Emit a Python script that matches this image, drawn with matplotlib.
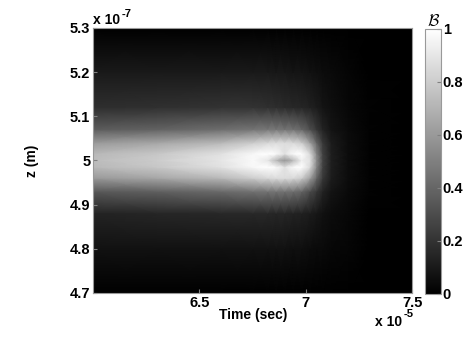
import numpy as np
import matplotlib
matplotlib.use('Agg')
import matplotlib.pyplot as plt

plt.rcParams['font.family'] = ['Liberation Sans', 'DejaVu Sans']
plt.rcParams['font.weight'] = 'bold'

# time samples (x 1e-5 s) and z samples (x 1e-7 m)
t = [6.00, 6.30, 6.60, 6.75, 6.82, 6.86, 6.90, 6.94, 6.98, 7.02, 7.05, 7.08, 7.12, 7.20, 7.30, 7.50]
z = [4.70, 4.80, 4.88, 4.93, 4.96, 4.985, 5.00, 5.015, 5.04, 5.07, 5.12, 5.20, 5.30]

# brightness B, one row per z value
B_470 = [0.00, 0.00, 0.00, 0.00, 0.00, 0.00, 0.00, 0.00, 0.00, 0.00, 0.00, 0.00, 0.00, 0.00, 0.00, 0.00]
B_480 = [0.07, 0.07, 0.07, 0.07, 0.07, 0.07, 0.07, 0.06, 0.06, 0.05, 0.04, 0.04, 0.03, 0.02, 0.00, 0.00]
B_488 = [0.14, 0.15, 0.16, 0.16, 0.16, 0.15, 0.15, 0.14, 0.13, 0.11, 0.09, 0.07, 0.05, 0.03, 0.00, 0.00]
B_493 = [0.35, 0.38, 0.42, 0.45, 0.46, 0.46, 0.45, 0.44, 0.40, 0.30, 0.22, 0.14, 0.08, 0.04, 0.01, 0.00]
B_496 = [0.60, 0.65, 0.72, 0.80, 0.84, 0.86, 0.86, 0.85, 0.80, 0.62, 0.40, 0.22, 0.11, 0.05, 0.01, 0.00]
B_4985 = [0.72, 0.78, 0.88, 0.97, 1.00, 0.98, 0.88, 0.98, 1.00, 0.85, 0.52, 0.25, 0.12, 0.05, 0.01, 0.00]
B_500 = [0.74, 0.80, 0.90, 0.98, 0.90, 0.72, 0.58, 0.72, 0.94, 0.88, 0.55, 0.26, 0.12, 0.05, 0.01, 0.00]
B_5015 = [0.72, 0.78, 0.88, 0.97, 1.00, 0.98, 0.88, 0.98, 1.00, 0.85, 0.52, 0.25, 0.12, 0.05, 0.01, 0.00]
B_504 = [0.60, 0.65, 0.72, 0.80, 0.84, 0.86, 0.86, 0.85, 0.80, 0.62, 0.40, 0.22, 0.11, 0.05, 0.01, 0.00]
B_507 = [0.36, 0.39, 0.43, 0.46, 0.47, 0.47, 0.46, 0.45, 0.41, 0.31, 0.22, 0.14, 0.08, 0.04, 0.01, 0.00]
B_512 = [0.18, 0.19, 0.20, 0.20, 0.19, 0.18, 0.17, 0.16, 0.15, 0.13, 0.11, 0.08, 0.06, 0.03, 0.01, 0.00]
B_520 = [0.10, 0.10, 0.10, 0.10, 0.10, 0.09, 0.09, 0.08, 0.08, 0.07, 0.06, 0.05, 0.04, 0.02, 0.00, 0.00]
B_530 = [0.00, 0.00, 0.00, 0.00, 0.00, 0.00, 0.00, 0.00, 0.00, 0.00, 0.00, 0.00, 0.00, 0.00, 0.00, 0.00]

B = np.array([B_470, B_480, B_488, B_493, B_496, B_4985, B_500, B_5015,
              B_504, B_507, B_512, B_520, B_530])

fig = plt.figure(figsize=(4.75, 3.41), dpi=100)
ax = fig.add_axes([0.196, 0.141, 0.672, 0.777])
cax = fig.add_axes([0.895, 0.138, 0.034, 0.777])

T, Z = np.meshgrid(t, z)
im = ax.pcolormesh(T, Z, B, cmap='gray', shading='gouraud', vmin=0, vmax=1)
ax.set_xlim(6.0, 7.5)
ax.set_ylim(4.7, 5.3)
ax.set_xticks([6.5, 7, 7.5])
ax.set_xticklabels(['6.5', '7', '7.5'])
ax.set_yticks([4.7, 4.8, 4.9, 5.0, 5.1, 5.2, 5.3])
ax.set_yticklabels(['4.7', '4.8', '4.9', '5', '5.1', '5.2', '5.3'])
ax.tick_params(direction='in', length=3, labelsize=10.5, color='gray', pad=2)
for s in ax.spines.values():
    s.set_color('#999999')
    s.set_linewidth(0.8)
ax.set_xlabel('Time (sec)', fontsize=10, fontweight='bold', labelpad=-1)
ax.set_ylabel('z (m)', fontsize=10, fontweight='bold', labelpad=22)
# MATLAB style exponent labels
ax.text(0.0, 1.005, 'x 10', transform=ax.transAxes, fontsize=10,
        fontweight='bold', ha='left', va='bottom')
ax.text(0.088, 1.035, '-7', transform=ax.transAxes, fontsize=8,
        fontweight='bold', ha='left', va='bottom')
ax.text(0.968, -0.085, 'x 10', transform=ax.transAxes, fontsize=10,
        fontweight='bold', ha='right', va='top')
ax.text(0.972, -0.062, '-5', transform=ax.transAxes, fontsize=8,
        fontweight='bold', ha='left', va='top')

cb = fig.colorbar(im, cax=cax, ticks=[0, 0.2, 0.4, 0.6, 0.8, 1])
cb.ax.set_yticklabels(['0', '0.2', '0.4', '0.6', '0.8', '1'])
cb.ax.tick_params(direction='in', length=3, labelsize=10.5, color='gray', pad=1)
cb.outline.set_edgecolor('#999999')
cb.outline.set_linewidth(0.8)
cax.set_title(r'$\mathcal{B}$', fontsize=12, pad=0, math_fontfamily='cm')

plt.savefig('out.png', dpi=100)
